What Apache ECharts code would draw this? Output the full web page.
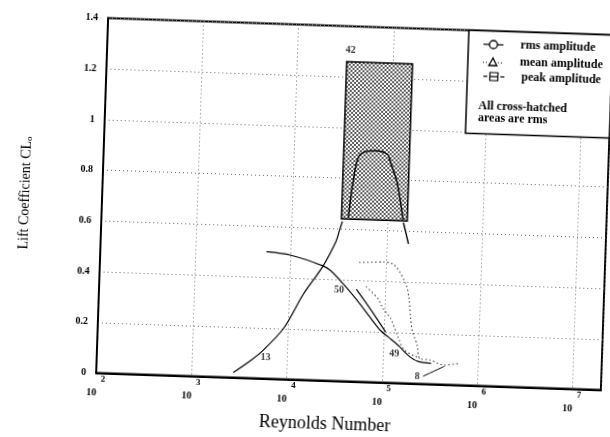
<!DOCTYPE html>
<html><head><meta charset="utf-8">
<script src="https://cdn.jsdelivr.net/npm/echarts@6/dist/echarts.min.js"></script>
<style>
html,body{margin:0;padding:0;background:#fff;overflow:hidden;}
#c{width:610px;height:437px;transform:rotate(1.93deg);transform-origin:354.5px 204px;}
</style>
</head><body><div id="c"></div>
<script>
// ---- axis ticks ----
const xTickExps = [2, 3, 4, 5, 6, 7];
const xRange = [100, 2e7];
const yTicks = [0, 0.2, 0.4, 0.6, 0.8, 1, 1.2, 1.4];

// ---- curves: [Reynolds number, lift coefficient] ----
const ref13 = [[2750,0.02],[4000,0.065],[5500,0.11],[8900,0.20],[14100,0.34],[21900,0.45],[29500,0.55],[31600,0.59],[33900,0.63]];
const ref42Mean = [[38900,0.645],[42200,0.78],[46800,0.88],[53700,0.905],[72400,0.913],[95500,0.90],[102000,0.875],[123000,0.79],[146000,0.645]];
const ref42Tail = [[148000,0.633],[158000,0.595],[170000,0.55]];
const ref50 = [[5560,0.50],[10000,0.49],[21900,0.452],[26600,0.434],[37200,0.38],[52500,0.317],[72400,0.253],[93300,0.204],[115000,0.178],[145000,0.148],[186000,0.11],[234000,0.088],[324000,0.082]];
const ref50Upper = [[50100,0.364],[64600,0.31],[83200,0.254],[105000,0.20]];
const ref49Dotted = [[52500,0.47],[95500,0.475],[123000,0.465],[166000,0.39],[180000,0.335],[191000,0.254],[200000,0.208],[229000,0.15],[245000,0.10],[316000,0.095],[437000,0.077],[631000,0.085]];
const ref49Lower = [[63100,0.376],[85100,0.33],[97700,0.29],[117000,0.255],[143000,0.18],[170000,0.13],[245000,0.10]];
const ref8Leader = [[269000,0.03],[447000,0.072]];

// cross-hatched rms band of ref 42 : [Re min, CL min], [Re max, CL max]
const band42 = [[33000,0.64],[162000,1.26]];

// reference numbers written on the plot
const refNames = ['42','13','50','49','8'];
const refRe = [36000, 5900, 33100, 132000, 234000];
const refCL = [1.305, 0.085, 0.36, 0.116, 0.026];

const SERIF = '"Liberation Serif", "Times New Roman", serif';

// dotted pattern for cross-hatching
const pat = document.createElement('canvas');
pat.width = 4; pat.height = 4;
const pc = pat.getContext('2d');
pc.fillStyle = '#fff'; pc.fillRect(0,0,4,4);
pc.fillStyle = '#5a5a5a';
pc.fillRect(0,0,2,2); pc.fillRect(2,2,2,2);

const chart = echarts.init(document.getElementById('c'), null, {renderer:'canvas'});

function solid(name, data, w) {
  return {type:'line', name, data, smooth:0.3, symbol:'none', silent:true,
    lineStyle:{color:'#000', width:w||1.2}, z:3};
}
function dotted(name, data) {
  return {type:'line', name, data, smooth:0.3, symbol:'none', silent:true,
    lineStyle:{color:'#444', width:1.1, type:[1.5,2.5]}, z:3};
}

const series = [
  Object.assign(solid('13', ref13), {
    markArea:{silent:true, z:1,
      itemStyle:{color:{image:pat, repeat:'repeat'}, borderColor:'#000', borderWidth:1.5},
      data:[[{coord:band42[0]},{coord:band42[1]}]]}
  }),
  solid('42 mean', ref42Mean, 1.5),
  solid('42 tail', ref42Tail, 1.4),
  solid('50', ref50),
  solid('50 upper', ref50Upper),
  dotted('49', ref49Dotted),
  dotted('49 lower', ref49Lower),
  solid('8', ref8Leader, 1),
  {type:'scatter', name:'refs', symbolSize:0, silent:true, z:5,
    data: refNames.map((n,i)=>({name:n, value:[refRe[i], refCL[i]]})),
    label:{show:true, position:'inside', formatter:'{b}', color:'#000',
      fontFamily:SERIF, fontWeight:'bold', fontSize:10}}
];

const lg = 'bold 12px ' + SERIF;
const graphic = [
  {type:'rect', z:100, silent:true, shape:{x:463, y:26.5, width:144, height:103},
    style:{fill:'#fff', stroke:'#000', lineWidth:1.5}},
  // rms
  {type:'line', z:101, shape:{x1:478,y1:40,x2:498,y2:40}, style:{stroke:'#000', lineWidth:1.2}},
  {type:'circle', z:102, shape:{cx:488, cy:40, r:4}, style:{fill:'#fff', stroke:'#000', lineWidth:1.3}},
  {type:'text', z:102, style:{x:515, y:40, text:'rms amplitude', font:lg, fill:'#000', verticalAlign:'middle'}},
  // mean
  {type:'line', z:101, shape:{x1:478,y1:58,x2:483,y2:58}, style:{stroke:'#000', lineWidth:1, lineDash:[1,2]}},
  {type:'line', z:101, shape:{x1:493,y1:58,x2:498,y2:58}, style:{stroke:'#000', lineWidth:1, lineDash:[1,2]}},
  {type:'polygon', z:102, shape:{points:[[488,53.5],[484,61],[492,61]]}, style:{fill:'none', stroke:'#000', lineWidth:1.3}},
  {type:'text', z:102, style:{x:515, y:57, text:'mean amplitude', font:lg, fill:'#000', verticalAlign:'middle'}},
  // peak
  {type:'line', z:101, shape:{x1:479,y1:72,x2:483,y2:72}, style:{stroke:'#000', lineWidth:1.2}},
  {type:'line', z:101, shape:{x1:496,y1:72,x2:500,y2:72}, style:{stroke:'#000', lineWidth:1.2}},
  {type:'rect', z:102, shape:{x:485.5, y:68, width:8, height:8}, style:{fill:'#fff', stroke:'#000', lineWidth:1.2}},
  {type:'line', z:103, shape:{x1:485.5,y1:72,x2:493.5,y2:72}, style:{stroke:'#000', lineWidth:1.2}},
  {type:'text', z:102, style:{x:517, y:72, text:'peak amplitude', font:lg, fill:'#000', verticalAlign:'middle'}},
  {type:'text', z:102, style:{x:475, y:102, text:'All cross-hatched', font:lg, fill:'#000', verticalAlign:'middle'}},
  {type:'text', z:102, style:{x:475, y:114, text:'areas are rms', font:lg, fill:'#000', verticalAlign:'middle'}},
  // x axis title
  {type:'text', z:102, silent:true, style:{x:332, y:425, text:'Reynolds Number', font:'18px ' + SERIF, fill:'#000', align:'center', verticalAlign:'middle'}}
];

chart.setOption({
  animation:false,
  backgroundColor:'#fff',
  grid:{left:102, top:26.5, right:3, bottom:55.5, show:true, borderColor:'#000', borderWidth:2},
  xAxis:{type:'log', logBase:10, min:xRange[0], max:xRange[1],
    axisLine:{show:true, lineStyle:{color:'#000', width:2}},
    axisTick:{show:false}, minorTick:{show:false},
    splitLine:{show:true, lineStyle:{color:'#666', width:1, type:[1,3]}},
    axisLabel:{margin:2, color:'#000',
      formatter:function(v){
        const e = Math.round(Math.log10(v));
        if (Math.abs(Math.log10(v)-e) > 1e-6 || xTickExps.indexOf(e) < 0) return '';
        return '{b|10}{s|' + e + '}';
      },
      rich:{
        b:{fontFamily:SERIF, fontWeight:'bold', fontSize:10, color:'#000', padding:[13,0,0,0], verticalAlign:'bottom'},
        s:{fontFamily:SERIF, fontWeight:'bold', fontSize:9, color:'#000', padding:[0,0,0,4], verticalAlign:'top'}
      }}
  },
  yAxis:{type:'value', min:yTicks[0], max:yTicks[yTicks.length-1], interval:yTicks[1]-yTicks[0],
    name:'Lift Coefficient CL{sub|o}', nameLocation:'middle', nameGap:70,
    nameTextStyle:{fontFamily:SERIF, fontSize:14, color:'#000',
      rich:{sub:{fontFamily:SERIF, fontSize:9, color:'#000', verticalAlign:'bottom'}}},
    axisLine:{show:true, lineStyle:{color:'#000', width:2}},
    axisTick:{show:false},
    splitLine:{show:true, lineStyle:{color:'#666', width:1, type:[1,3]}},
    axisLabel:{margin:10, color:'#000', fontFamily:SERIF, fontWeight:'bold', fontSize:10,
      formatter:function(v){ return yTicks.indexOf(Math.round(v*10)/10) >= 0 ? String(Math.round(v*10)/10) : ''; }}
  },
  series,
  graphic
});
</script>
</body></html>
